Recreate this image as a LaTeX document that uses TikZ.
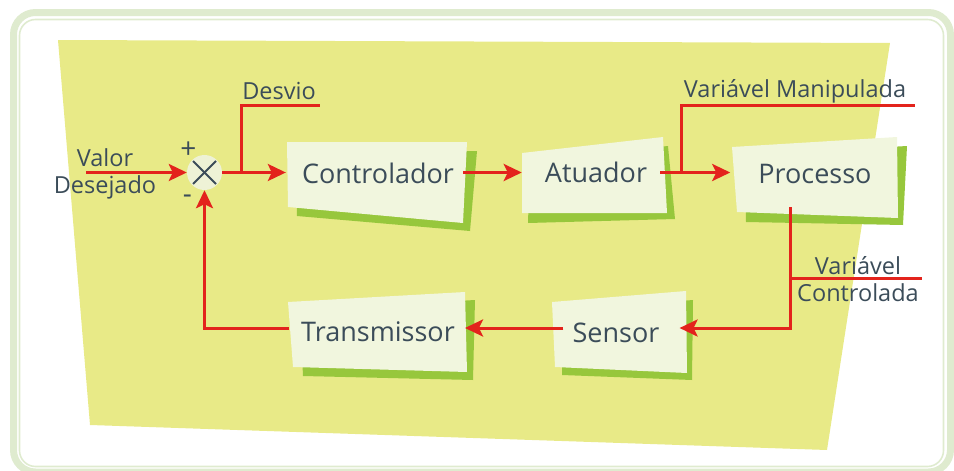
\documentclass[tikz,border=0pt]{standalone}
\usepackage{fontspec}
\setmainfont{Open Sans}
\usetikzlibrary{arrows.meta}
\definecolor{framegreen}{HTML}{DFEBCF}
\definecolor{padyellow}{HTML}{E8EA87}
\definecolor{boxfill}{HTML}{F1F6DE}
\definecolor{boxshadow}{HTML}{97C73C}
\definecolor{ink}{HTML}{3B4C59}
\definecolor{flowred}{HTML}{E3231C}
\definecolor{sumfill}{HTML}{EEF2D6}
\tikzset{
  flow/.style={draw=flowred, line width=3pt},
  flowarrow/.style={flow, -{Stealth[length=18pt,width=17pt,inset=4pt]}},
  boxtext/.style={font=\fontsize{27}{27}\selectfont, text=ink, inner sep=0pt,
                  text height=19.3pt, text depth=0pt},
  tag/.style={font=\fontsize{23.5}{27.5}\selectfont, text=ink, inner sep=0pt, align=center},
  sign/.style={font=\fontsize{28}{28}\selectfont, text=ink, inner sep=0pt},
  card/.style={fill=boxfill},
  cardshadow/.style={fill=boxshadow},
}
\begin{document}
\begin{tikzpicture}[x=1pt,y=-1pt]
\useasboundingbox (0,0) rectangle (954,471);

% frame
\draw[framegreen, line width=7pt, rounded corners=22pt] (13.5,12.5) rectangle (950.5,472);
\draw[framegreen, line width=1.6pt, rounded corners=16pt] (19.5,19.5) rectangle (943.5,466.5);

% background pad
\fill[padyellow] (58,40) -- (890,43) -- (827,450) -- (90,425) -- cycle;

% cards with offset shadows
\fill[cardshadow] (296,151) -- (477,151) -- (470,231) -- (297,216) -- cycle;
\fill[card] (287,142) -- (467,142) -- (463,223) -- (288,207) -- cycle;

\fill[cardshadow] (530,160) -- (668,146) -- (675,219) -- (528,223) -- cycle;
\fill[card] (522,153) -- (663,137) -- (667,213) -- (522,213) -- cycle;

\fill[cardshadow] (745,155) -- (907,146) -- (903,225) -- (746,222) -- cycle;
\fill[card] (732,147) -- (897,137) -- (898,218) -- (737,212) -- cycle;

\fill[cardshadow] (300,310) -- (475,300) -- (473,380) -- (303,376) -- cycle;
\fill[card] (288,302) -- (465,292) -- (467,372) -- (293,367) -- cycle;

\fill[cardshadow] (562,310) -- (693,300) -- (692,380) -- (562,375) -- cycle;
\fill[card] (552,302) -- (686,291) -- (687,373) -- (555,367) -- cycle;

% block labels
\node[boxtext] (ctrl) at (378,173.5) {Controlador};
\node[boxtext] (act) at (596,173) {Atuador};
\node[boxtext] (proc) at (815,174) {Processo};
\node[boxtext] (trans) at (378,332) {Transmissor};
\node[boxtext] (sens) at (616,333) {Sensor};

% summing junction
\node[circle, fill=sumfill, minimum size=35pt, inner sep=0pt] (sum) at (204.5,172.5) {};
\draw[ink, line width=2pt] ([shift={(-11.5,-11.5)}]sum.center) -- ([shift={(11.5,11.5)}]sum.center);
\draw[ink, line width=2pt] ([shift={(-11.5,11.5)}]sum.center) -- ([shift={(11.5,-11.5)}]sum.center);
\node[sign] (plus) at (188.5,150) {+};
\node[sign] (minus) at (187.5,199) {-};

% signal labels
\node[tag] (setpoint) at (105,174) {Valor\\Desejado};
\node[tag] (desvio) at (279,91) {Desvio};
\node[tag] (manip) at (795,91) {Variável Manipulada};
\node[tag] (contr) at (858,279) {Variável\\Controlada};

% connection points
\coordinate (in) at (86,172.5);
\coordinate (dvA) at (241,172.5);
\coordinate (dvB) at (320,105);
\coordinate (mvA) at (681,172.5);
\coordinate (mvB) at (915,105);
\coordinate (pvA) at (790,207);
\coordinate (pvB) at (790,278);
\coordinate (pvC) at (922,278);
\coordinate (fbA) at (204.5,328);

% forward path
\draw[flowarrow] (in) -- (sum.west);
\draw[flowarrow] (sum.east) -- ([xshift=-16pt]ctrl.west |- sum.east);
\draw[flow] (dvA) |- (dvB);
\draw[flowarrow] ([xshift=9pt]ctrl.east |- sum.east) -- ([xshift=-23pt]act.west |- sum.east);
\draw[flowarrow] ([xshift=13pt]act.east |- sum.east) -- ([xshift=-28pt]proc.west |- sum.east);
\draw[flow] (mvA) |- (mvB);

% feedback path
\draw[flowarrow] (pvA) |- ([xshift=20pt]sens.east |- fbA);
\draw[flow] (pvB) -- (pvC);
\draw[flowarrow] ([xshift=-9pt]sens.west |- fbA) -- ([xshift=10pt]trans.east |- fbA);
\draw[flowarrow] ([xshift=-12pt]trans.west |- fbA) -- (fbA) -- (sum.south);
\end{tikzpicture}
\end{document}
